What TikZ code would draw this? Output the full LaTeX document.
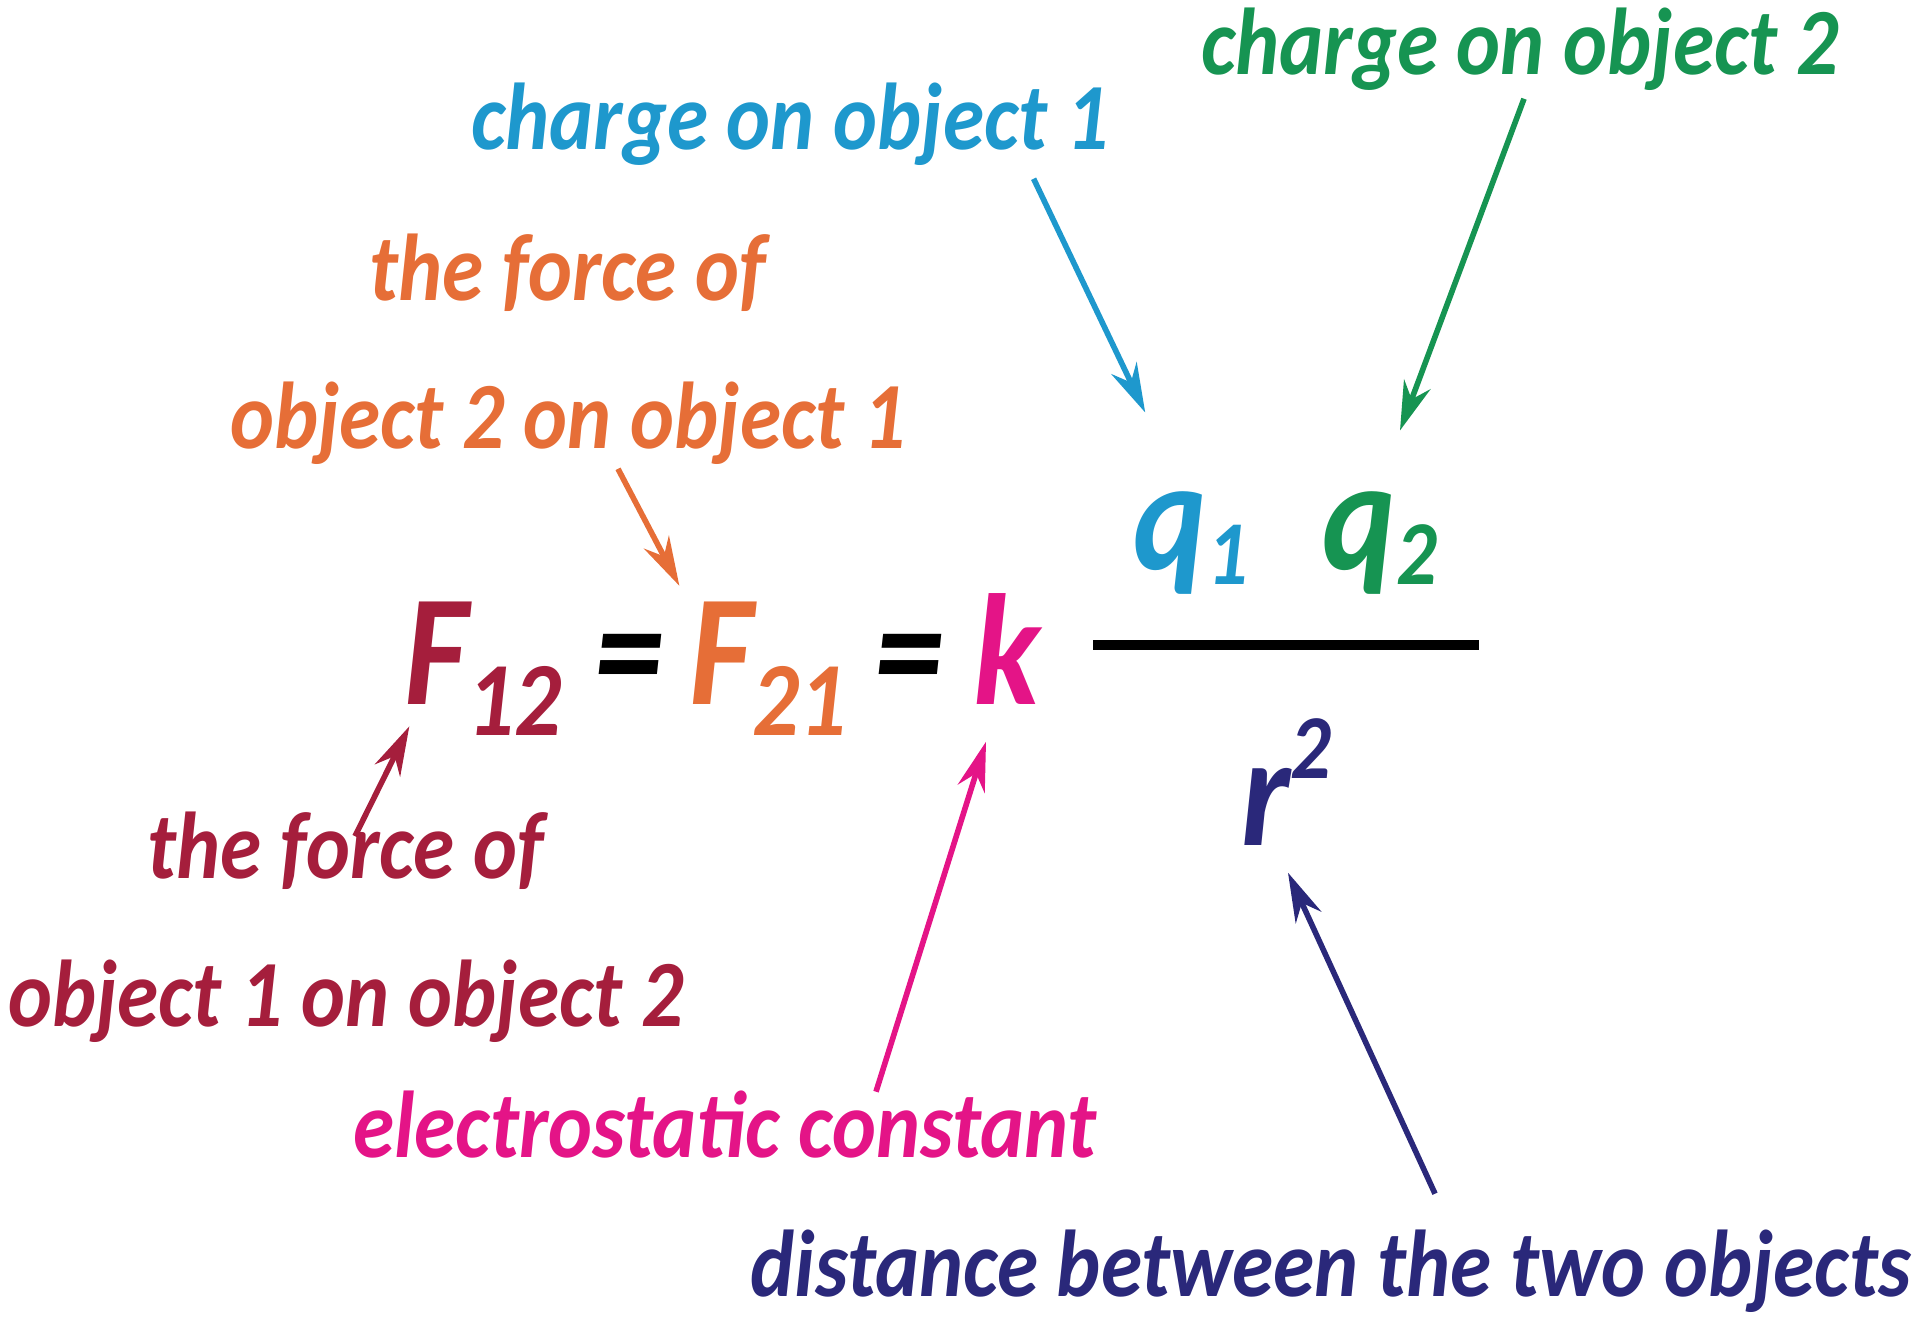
\documentclass[tikz,border=0pt]{standalone}
\usepackage{fontspec}
\setmainfont{Carlito}[FakeStretch=0.88]
\usetikzlibrary{arrows.meta}

\definecolor{qonecol}{RGB}{30,152,205}
\definecolor{qtwocol}{RGB}{22,148,82}
\definecolor{fbacol}{RGB}{230,110,55}
\definecolor{fabcol}{RGB}{165,30,60}
\definecolor{kcol}{RGB}{228,20,135}
\definecolor{rcol}{RGB}{42,40,122}

\newcommand{\lowsub}[1]{\raisebox{-0.2em}{\fontsize{30}{30}\selectfont #1}}
\newcommand{\qsub}[1]{\raisebox{-0.1em}{\fontsize{26}{26}\selectfont #1}}
\newcommand{\hisup}[1]{\raisebox{0.42em}{\fontsize{26}{26}\selectfont #1}}

\tikzset{
  lbl/.style={font=\bfseries\itshape\fontsize{27}{42}\selectfont, align=center, inner sep=0pt},
  sym/.style={font=\bfseries\itshape\fontsize{45}{45}\selectfont, inner sep=0pt, anchor=base},
  ptr/.style={-{Stealth[length=14pt,width=8pt]}, line width=1.6pt},
}

\begin{document}
\begin{tikzpicture}[x=1cm,y=1cm]
\useasboundingbox (0,0) rectangle (19.2,-13.25);

% formula
\node[sym, text=fabcol] (fot) at (4.83,-7.04) {F\lowsub{12}};
\node[sym] (eqa) at (6.29,-7.04) {=};
\node[sym, text=fbacol] (fto) at (7.68,-7.04) {F\lowsub{21}};
\node[sym] (eqb) at (9.09,-7.04) {=};
\node[sym, text=kcol] (kk) at (10.07,-7.04) {k};
\node[sym, text=qonecol] (qone) at (11.91,-5.69) {q\qsub{1}};
\node[sym, text=qtwocol] (qtwo) at (13.80,-5.69) {q\qsub{2}};
\node[sym, text=rcol] (rsq) at (12.86,-8.45) {r\hisup{2}};
\draw[line width=3pt] (10.93,-6.45) -- (14.79,-6.45);

% labels
\node[lbl, text=qtwocol, anchor=base] (ctwo) at (15.2,-0.74) {charge on object 2};
\node[lbl, text=qonecol, anchor=base] (cone) at (7.9,-1.49) {charge on object 1};
\node[lbl, text=fbacol] (fba) at (5.68,-3.49) {the force of\\object 2 on object 1};
\node[lbl, text=fabcol] (fab) at (3.46,-9.27) {the force of\\object 1 on object 2};
\node[lbl, text=kcol, anchor=base] (econst) at (7.25,-11.57) {electrostatic constant};
\node[lbl, text=rcol, anchor=base west] (dist) at (7.5,-12.96) {distance between the two objects};

% pointers
\draw[ptr, qonecol] ([shift={(-0.76,-0.13)}]cone.south east) -- ([shift={(0.12,0.78)}]qone.north west);
\draw[ptr, qtwocol] ([shift={(0.04,-0.08)}]ctwo.south) -- ([shift={(0.2,0.6)}]qtwo.north);
\draw[ptr, fbacol] ([shift={(0.5,-0.04)}]fba.south) -- ([shift={(-0.09,0.15)}]fto.north west);
\draw[ptr, fabcol] ([shift={(0.09,-0.25)}]fab.north) -- ([shift={(0.06,0.10)}]fot.south west);
\draw[ptr, kcol] ([shift={(1.51,-0.02)}]econst.north) -- ([shift={(-0.21,-0.37)}]kk.south);
\draw[ptr, rcol] ([shift={(6.85,0.35)}]dist.north west) -- ([shift={(0.02,-0.27)}]rsq.south);
\end{tikzpicture}
\end{document}
